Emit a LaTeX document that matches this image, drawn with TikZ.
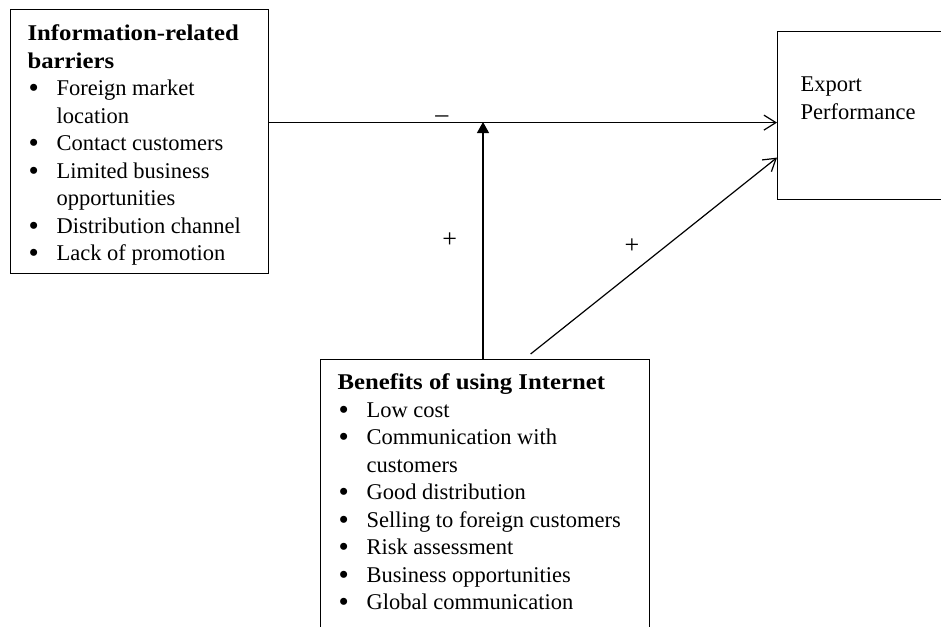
\documentclass[tikz,border=0pt]{standalone}
\usepackage{fontspec}
\setmainfont{Liberation Serif}
\usepackage{enumitem}
\usetikzlibrary{arrows.meta}

\newcommand{\boxfont}{\fontsize{22.5}{27.5}\selectfont}
\newcommand{\signfont}{\fontsize{26}{28}\selectfont}
\newcommand{\headtext}[1]{\scalebox{1.1}[1]{\textbf{#1}}}
\setlist[itemize]{label=\raisebox{-2pt}{\scalebox{1.3}{\textbullet}}, nosep, leftmargin=29pt, labelwidth=20pt, labelsep=8pt, align=left}

\begin{document}
\begin{tikzpicture}[x=1pt,y=-1pt,line width=1.2pt,
  box node/.style={draw,rectangle,inner ysep=0pt,inner xsep=17pt,font=\boxfont},
  sign/.style={font=\signfont}]
  \useasboundingbox (0,0) rectangle (941,626);
  \clip (0,0) rectangle (941,626);

  \node[box node, anchor=north west, text height=31pt, text depth=233pt] (barriers) at (10,9) {%
    \begin{minipage}[t]{224pt}\raggedright
      \headtext{Information-related}\\
      \headtext{barriers}
      \begin{itemize}
        \item Foreign market\\location
        \item Contact customers
        \item Limited business\\opportunities
        \item Distribution channel
        \item Lack of promotion
      \end{itemize}
    \end{minipage}};
  \node[box node, anchor=north west, inner xsep=23pt, text height=60pt, text depth=108pt] (perf) at (777,31) {%
    \begin{minipage}[t]{150pt}\raggedright
      Export\\Performance
    \end{minipage}};
  \node[box node, anchor=north west, text height=30pt, text depth=262pt] (benefits) at (320,359) {%
    \begin{minipage}[t]{295pt}\raggedright
      \headtext{Benefits of using Internet}
      \begin{itemize}
        \item Low cost
        \item Communication with\\customers
        \item Good distribution
        \item Selling to foreign customers
        \item Risk assessment
        \item Business opportunities
        \item Global communication
      \end{itemize}
    \end{minipage}};

  \coordinate (meet) at (483,122);

  \path[-{Straight Barb[length=12pt,width=15pt]}]
    ([yshift=19pt]barriers.east) edge node[sign, pos=0.34, above, inner sep=0pt] {--} ([yshift=-7pt]perf.west)
    (benefits.north -| meet) edge [-{Triangle[length=11pt,width=12pt]}] node[sign, left=22pt] {+} (meet)
    ([shift={(45.5pt,5pt)}]benefits.north) edge node[sign, pos=0.55, left=23pt] {+} ([yshift=-42pt]perf.west)
;
\end{tikzpicture}
\end{document}
